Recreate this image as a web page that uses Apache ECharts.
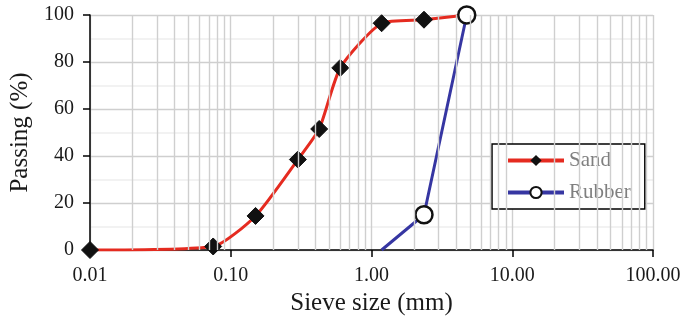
<!DOCTYPE html>
<html>
<head>
<meta charset="utf-8">
<script src="https://cdn.jsdelivr.net/npm/echarts@6/dist/echarts.min.js"></script>
<style>
html,body{margin:0;padding:0;background:#fff;}
#chart{width:684px;height:323px;}
</style>
</head>
<body>
<div id="chart"></div>
<script>
// ---- data ----
const sandSize = [0.01, 0.075, 0.15, 0.3, 0.425, 0.6, 1.18, 2.36, 4.75];
const sandPass = [0, 1.5, 14.5, 38.5, 51.5, 77.5, 96.5, 98, 100];
const rubberSize = [1.18, 2.36, 4.75];
const rubberPass = [0, 15, 100];
const seriesNames = ['Sand', 'Rubber'];
const minorMultipliers = [2, 3, 4, 5, 6, 7, 8, 9];
const decadeStarts = [0.01, 0.1, 1, 10];

const FONT = 'Liberation Serif';
const minorGrid = [];
decadeStarts.forEach(d => minorMultipliers.forEach(m => minorGrid.push({ xAxis: +(d * m).toPrecision(3) })));

const sandData = sandSize.map((x, i) => {
  const item = { value: [x, sandPass[i]] };
  if (i === sandSize.length - 1) item.symbol = 'none';
  return item;
});
const rubberData = rubberSize.map((x, i) => {
  const item = { value: [x, rubberPass[i]] };
  if (i === 0) item.symbol = 'none';
  return item;
});

const chart = echarts.init(document.getElementById('chart'), null, { renderer: 'canvas' });
chart.setOption({
  animation: false,
  backgroundColor: '#fff',
  textStyle: { fontFamily: FONT },
  grid: { left: 89, right: 31, top: 15, bottom: 73, containLabel: false },
  legend: {
    data: seriesNames,
    orient: 'vertical',
    left: 492, top: 144,
    padding: [6, 14, 6, 14],
    itemGap: 11,
    itemWidth: 56,
    itemHeight: 14,
    backgroundColor: '#fff',
    borderColor: '#000',
    borderWidth: 1.5,
    borderRadius: 0,
    lineStyle: { width: 4 },
    textStyle: { fontFamily: FONT, fontSize: 21, color: '#7f7f7f' },
    selectedMode: false
  },
  xAxis: {
    type: 'log', logBase: 10, min: 0.01, max: 100,
    name: 'Sieve size (mm)', nameLocation: 'middle', nameGap: 41,
    nameTextStyle: { fontFamily: FONT, fontSize: 25, color: '#1a1a1a' },
    axisLine: { show: true, onZero: false, lineStyle: { color: '#000', width: 1.5 } },
    axisTick: { show: true, inside: false, length: 7, lineStyle: { color: '#000', width: 1.5 } },
    axisLabel: { fontFamily: FONT, fontSize: 20, color: '#1a1a1a', margin: 16,
      formatter: v => Number(v).toFixed(2) },
    splitLine: { show: true, lineStyle: { color: '#cfcfcf', width: 1.4 } }
  },
  yAxis: {
    type: 'value', min: 0, max: 100, interval: 20,
    name: 'Passing (%)', nameLocation: 'middle', nameGap: 57, nameRotate: 90,
    nameTextStyle: { fontFamily: FONT, fontSize: 25, color: '#1a1a1a' },
    axisLine: { show: true, lineStyle: { color: '#000', width: 1.5 } },
    axisTick: { show: true, inside: false, length: 7, lineStyle: { color: '#000', width: 1.5 } },
    axisLabel: { fontFamily: FONT, fontSize: 20, color: '#1a1a1a', margin: 16 },
    splitLine: { show: true, lineStyle: { color: '#cfcfcf', width: 1.4 } },
    minorTick: { show: false, splitNumber: 2 },
    minorSplitLine: { show: true, lineStyle: { color: '#eeeeee', width: 1.5 } }
  },
  series: [
    {
      name: '_grid', type: 'line', data: [], z: 1, silent: true,
      markLine: {
        silent: true, symbol: ['none', 'none'], animation: false,
        label: { show: false },
        lineStyle: { color: '#cfcfcf', width: 1.4, type: 'solid' },
        emphasis: { disabled: true },
        data: minorGrid
      }
    },
    {
      name: 'Sand', type: 'line', data: sandData, z: 3,
      smooth: 0.2,
      symbol: 'diamond', symbolSize: 17,
      lineStyle: { color: '#e52b20', width: 3 },
      itemStyle: { color: '#111', borderColor: '#111' },
      emphasis: { disabled: true }
    },
    {
      name: 'Rubber', type: 'line', data: rubberData, z: 4,
      symbol: 'circle', symbolSize: 17,
      lineStyle: { color: '#3636a2', width: 3 },
      itemStyle: { color: '#fff', borderColor: '#111', borderWidth: 2.5 },
      emphasis: { disabled: true }
    }
  ]
});
</script>
</body>
</html>
